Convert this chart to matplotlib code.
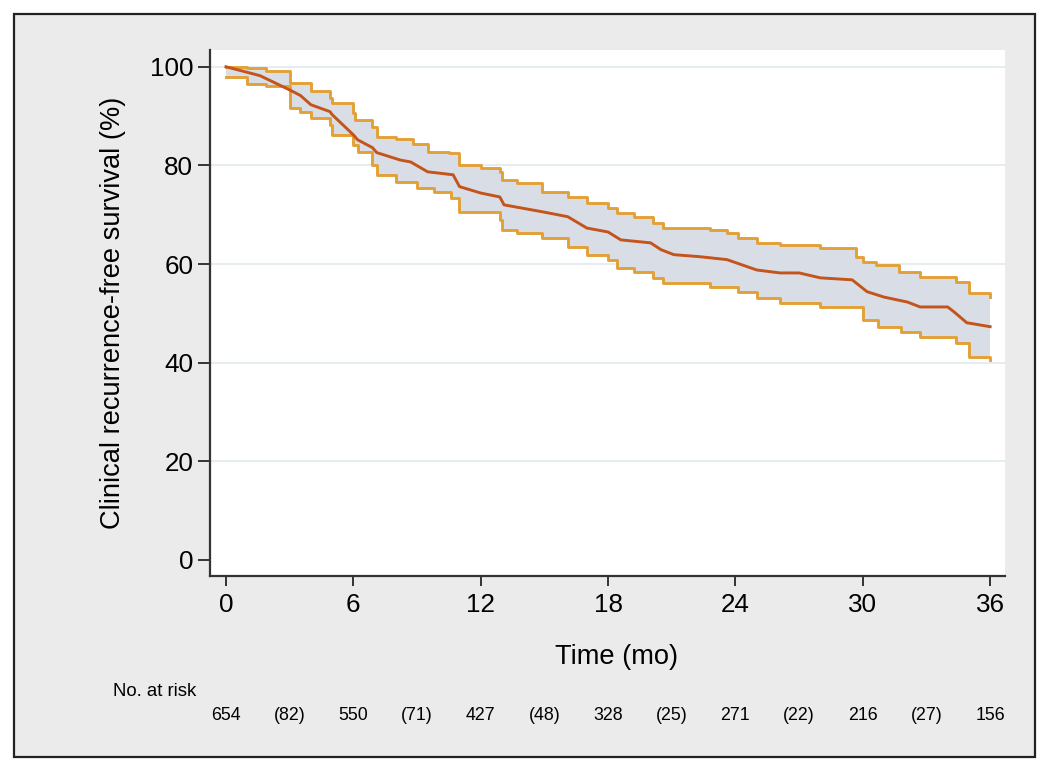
import matplotlib
matplotlib.use("Agg")
import matplotlib.pyplot as plt
from matplotlib.patches import Rectangle
import matplotlib.transforms as mtransforms
import numpy as np

plt.rcParams['font.family'] = ['Liberation Sans', 'DejaVu Sans']

# Kaplan-Meier estimate (months, %)
km_t = [0, 1.6, 3.0, 3.5, 4.0, 4.9, 5.0, 6.0, 6.2, 6.9, 7.1, 8.2, 8.7, 9.5, 10.7, 11.0,
        12.0, 12.9, 13.1, 14.9, 16.1, 17.0, 18.0, 18.6, 20.0, 20.5, 21.1, 22.3, 23.6,
        25.0, 26.1, 27.0, 28.0, 29.5, 30.2, 31.0, 32.1, 32.7, 34.0, 34.3, 34.9, 36.0]
km_s = [100, 98.2, 95.3, 94.2, 92.3, 90.9, 90.3, 86.2, 85.2, 83.6, 82.6, 81.1, 80.7, 78.7,
        78.1, 75.7, 74.4, 73.6, 72.0, 70.6, 69.6, 67.3, 66.5, 64.9, 64.3, 62.9, 61.9, 61.5,
        60.9, 58.8, 58.2, 58.2, 57.2, 56.8, 54.4, 53.3, 52.3, 51.3, 51.3, 50.3, 48.1, 47.3]

# upper 95% CI (step)
up_t = [0, 1.0, 1.9, 3.0, 4.0, 4.9, 5.0, 6.0, 6.1, 6.9, 7.1, 8.0, 8.8, 9.5, 10.5, 11.0,
        12.0, 12.9, 13.0, 13.7, 14.9, 16.1, 17.0, 18.0, 18.4, 19.2, 20.1, 20.6, 22.8, 23.6,
        24.1, 25.0, 26.1, 28.0, 29.7, 30.0, 30.6, 31.7, 32.7, 34.4, 35.0, 36.0]
up_s = [100, 99.7, 99.2, 96.7, 95.1, 93.7, 92.7, 90.7, 89.2, 87.8, 85.8, 85.4, 84.4, 82.8,
        82.5, 80.1, 79.5, 78.7, 77.1, 76.5, 74.6, 73.6, 72.4, 71.4, 70.4, 69.6, 68.4, 67.3,
        66.9, 66.3, 65.3, 64.3, 63.9, 63.3, 61.5, 60.4, 59.8, 58.4, 57.4, 56.4, 54.2, 53.4]

# lower 95% CI (step)
lo_t = [0, 1.0, 1.9, 3.0, 3.5, 4.0, 4.9, 5.0, 6.0, 6.2, 6.9, 7.1, 8.0, 9.0, 9.8, 10.6,
        11.0, 12.9, 13.0, 13.7, 14.9, 16.1, 17.0, 18.0, 18.4, 19.2, 20.1, 20.6, 22.8, 24.1,
        25.0, 26.1, 28.0, 30.0, 30.7, 31.8, 32.7, 34.4, 35.0, 36.0]
lo_s = [98.0, 96.6, 96.0, 91.7, 90.8, 89.7, 88.2, 86.2, 84.2, 82.8, 80.1, 78.1, 76.7, 75.5,
        74.6, 73.4, 70.6, 69.0, 66.9, 66.3, 65.3, 63.5, 61.9, 60.9, 59.2, 58.4, 57.2, 56.2,
        55.4, 54.4, 53.1, 52.1, 51.3, 48.7, 47.3, 46.2, 45.2, 44.0, 41.2, 40.5]

risk_t = [0, 3, 6, 9, 12, 15, 18, 21, 24, 27, 30, 33, 36]
risk_lbl = ['654', '(82)', '550', '(71)', '427', '(48)', '328', '(25)', '271', '(22)',
            '216', '(27)', '156']

grey = '#ebebeb'
fig = plt.figure(figsize=(10.5, 7.72), dpi=100, facecolor='white')
fig.patches.append(Rectangle((14/1050, 1-757/772), (1035-14)/1050, (757-14)/772,
                             transform=fig.transFigure, facecolor=grey,
                             edgecolor='#222222', linewidth=1.6, zorder=-5))

ax = fig.add_axes([210/1050, 1-576/772, (1005-210)/1050, (576-50)/772])
ax.set_facecolor('white')
ax.set_xlim(-0.754, 36.7)
ax.set_ylim(-3.25, 103.4)

for g in [20, 40, 60, 80, 100]:
    ax.axhline(g, color='#e2eaee', lw=1.2, zorder=1)

# fill between the step bounds on a common time grid
grid = np.array(sorted(set(up_t) | set(lo_t)))
def stepval(tt, ss, x):
    idx = np.searchsorted(tt, x, side='right') - 1
    return np.array(ss)[idx]
u = stepval(np.array(up_t), up_s, grid)
l = stepval(np.array(lo_t), lo_s, grid)
ax.fill_between(grid, l, u, step='post', color='#d9dee6', lw=0, zorder=2)
ax.step(up_t, up_s, where='post', color='#e3a037', lw=2.1, zorder=3)
ax.step(lo_t, lo_s, where='post', color='#e3a037', lw=2.1, zorder=3)
ax.plot(km_t, km_s, color='#c4541c', lw=2.1, zorder=4)

for s in ['top', 'right']:
    ax.spines[s].set_visible(False)
for s in ['left', 'bottom']:
    ax.spines[s].set_linewidth(1.6)
    ax.spines[s].set_color('#333333')

ax.set_xticks([0, 6, 12, 18, 24, 30, 36])
ax.set_yticks([0, 20, 40, 60, 80, 100])
ax.tick_params(axis='both', width=1.4, color='#333333', labelsize=18.7)
ax.tick_params(axis='y', length=8.5, pad=3.5)
ax.tick_params(axis='x', length=7.5, pad=5)

ax.set_ylabel('Clinical recurrence-free survival (%)', fontsize=19.6, labelpad=17)
ax.set_xlabel('Time (mo)', fontsize=19.6)
ax.xaxis.set_label_coords((617-210)/795, -(657-576)/526, transform=ax.transAxes)
ax.xaxis.label.set_va('center')

fig.text(113/1050, 1-692/772, 'No. at risk', fontsize=13.4, va='center', ha='left')
tr = mtransforms.blended_transform_factory(ax.transData, fig.transFigure)
for t, lbl in zip(risk_t, risk_lbl):
    ax.text(t, 1-716/772, lbl, transform=tr, fontsize=12.8, ha='center', va='center',
            clip_on=False)

fig.savefig('out.png', dpi=100, facecolor='white')
